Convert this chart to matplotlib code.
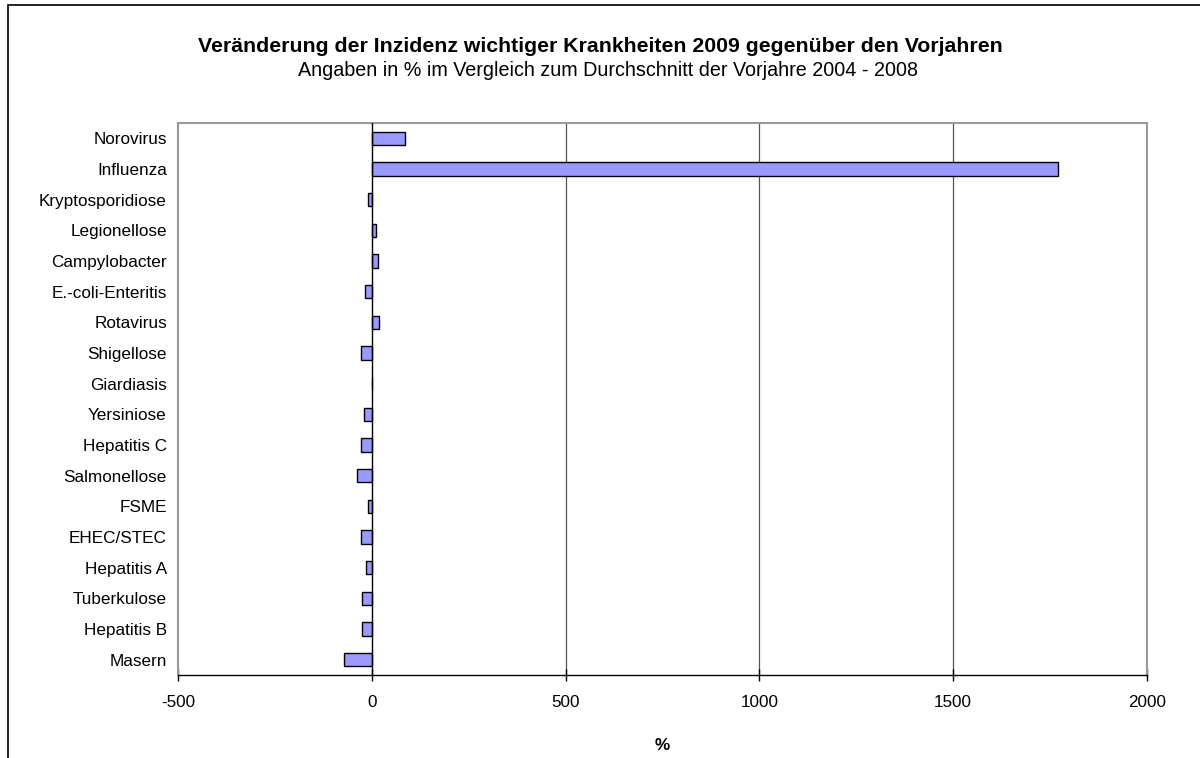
import matplotlib
matplotlib.use("Agg")
import matplotlib.pyplot as plt
from matplotlib.patches import Rectangle

plt.rcParams['font.family'] = ['Liberation Sans', 'DejaVu Sans']

categories = ["Norovirus", "Influenza", "Kryptosporidiose", "Legionellose", "Campylobacter",
              "E.-coli-Enteritis", "Rotavirus", "Shigellose", "Giardiasis", "Yersiniose",
              "Hepatitis C", "Salmonellose", "FSME", "EHEC/STEC", "Hepatitis A",
              "Tuberkulose", "Hepatitis B", "Masern"]
values = [85, 1770, -10, 11, 15, -17, 19, -27, 0, -21, -28, -38, -10, -28, -14, -24, -24, -73]
xticks = [-500, 0, 500, 1000, 1500, 2000]

fig = plt.figure(figsize=(12, 7.58), dpi=100)
# outer chart border (left and top visible)
fig.patches.append(Rectangle((8/1200, -0.1), 1.2, 1 - 5/758 + 0.1, transform=fig.transFigure,
                             fill=False, edgecolor='black', linewidth=1.2))

ax = fig.add_axes([178/1200, 1 - 675/758, (1147 - 178)/1200, (675 - 123)/758])
n = len(categories)
ypos = [n - 1 - i for i in range(n)]
ax.barh(ypos, values, height=0.43, color='#9999FF', edgecolor='black', linewidth=1.0, zorder=3)

ax.set_xlim(-500, 2000)
ax.set_ylim(-0.5, n - 0.5)
ax.set_xticks(xticks)
ax.set_xticklabels([str(t) for t in xticks], fontsize=12.3)
ax.set_yticks(ypos)
ax.set_yticklabels(categories, fontsize=12.3)
ax.tick_params(axis='y', length=0, pad=8)
ax.tick_params(axis='x', direction='inout', length=9, width=1, pad=10, color='black')

for x in [500, 1000, 1500]:
    ax.axvline(x, color='#555555', linewidth=0.9, zorder=1)
ax.axvline(0, color='black', linewidth=1.0, zorder=4)

for s in ['top', 'right', 'left']:
    ax.spines[s].set_color('#999999')
    ax.spines[s].set_linewidth(1.5)
ax.spines['bottom'].set_color('black')
ax.spines['bottom'].set_linewidth(1.0)

ax.set_xlabel('%', fontsize=12.3, fontweight='bold', labelpad=20)

fig.text(0.5, 1 - 46/758, "Veränderung der Inzidenz wichtiger Krankheiten 2009 gegenüber den Vorjahren",
         ha='center', va='center', fontsize=15.3, fontweight='bold')
fig.text(608/1200, 1 - 71/758, "Angaben in % im Vergleich zum Durchschnitt der Vorjahre 2004 - 2008",
         ha='center', va='center', fontsize=14.2)

fig.savefig('out.png', dpi=100)
